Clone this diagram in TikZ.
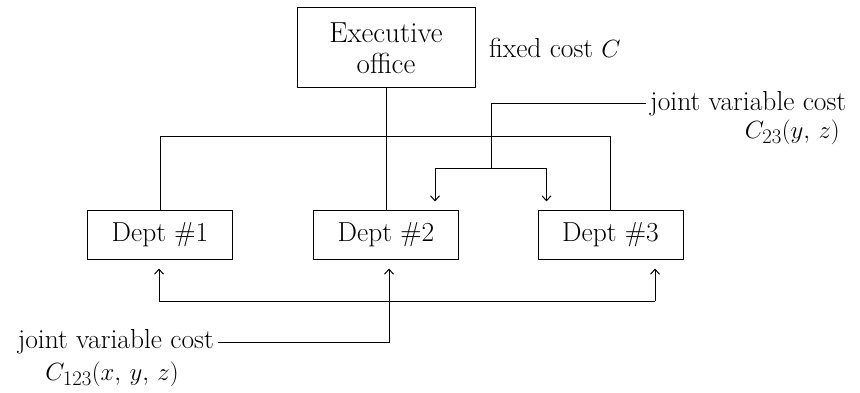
\documentclass[tikz,border=0pt]{standalone}
\usetikzlibrary{arrows.meta}
\begin{document}
\begin{tikzpicture}[x=1pt,y=-1pt,
  every node/.style={font=\fontsize{27.5}{29}\selectfont, inner sep=0pt},
  box/.style={draw, line width=1pt, align=center},
  ln/.style={line width=1pt},
  arr/.style={line width=1pt, -{Straight Barb[length=5pt,width=9pt]}}]
\useasboundingbox (0,0) rectangle (860,393);
% boxes
\node[box, minimum width=178pt, minimum height=80pt, font=\fontsize{29}{31}\selectfont] (exec) at (386,48) {Executive\\office};
\node[box, minimum width=145pt, minimum height=48pt] (d1) at (160,235) {Dept \#1};
\node[box, minimum width=145pt, minimum height=48pt] (d2) at (386,235) {Dept \#2};
\node[box, minimum width=145pt, minimum height=48pt] (d3) at (610.5,235) {Dept \#3};
% labels
\node[anchor=west] (fixed) at (489,48) {fixed cost $C$};
\node[anchor=west] (j23) at (650,104) {joint variable cost};
\node[anchor=east] (c23) at (840,132) {$C_{23}(y,\,z)$};
\node[anchor=east] (j123) at (214,342) {joint variable cost};
\node (c123) at (112,374) {$C_{123}(x,\,y,\,z)$};
% fixed cost tree
\draw[ln] (exec.south) -- (d2.north);
\draw[ln] (d1.north) -- ++(0,-74) -| (d3.north);
% C23
\coordinate (s23) at (491,169);
\draw[ln] ([xshift=-4pt]j23.west) -| (s23);
\draw[arr] (s23) -| ([xshift=-24pt,yshift=9pt]d2.north east);
\draw[arr] (s23) -| ([xshift=9pt,yshift=9pt]d3.north west);
% C123
\coordinate (bus) at (0,301);
\coordinate (t1) at ([xshift=-1pt,yshift=-9pt]d1.south);
\coordinate (t2) at ([xshift=3pt,yshift=-9pt]d2.south);
\coordinate (t3) at ([xshift=44.5pt,yshift=-9pt]d3.south);
\draw[ln] (t1 |- bus) -- (t3 |- bus);
\draw[arr] (t1 |- bus) -- (t1);
\draw[arr] (t3 |- bus) -- (t3);
\draw[arr] ([xshift=4pt]j123.east) -| (t2);
\end{tikzpicture}
\end{document}
